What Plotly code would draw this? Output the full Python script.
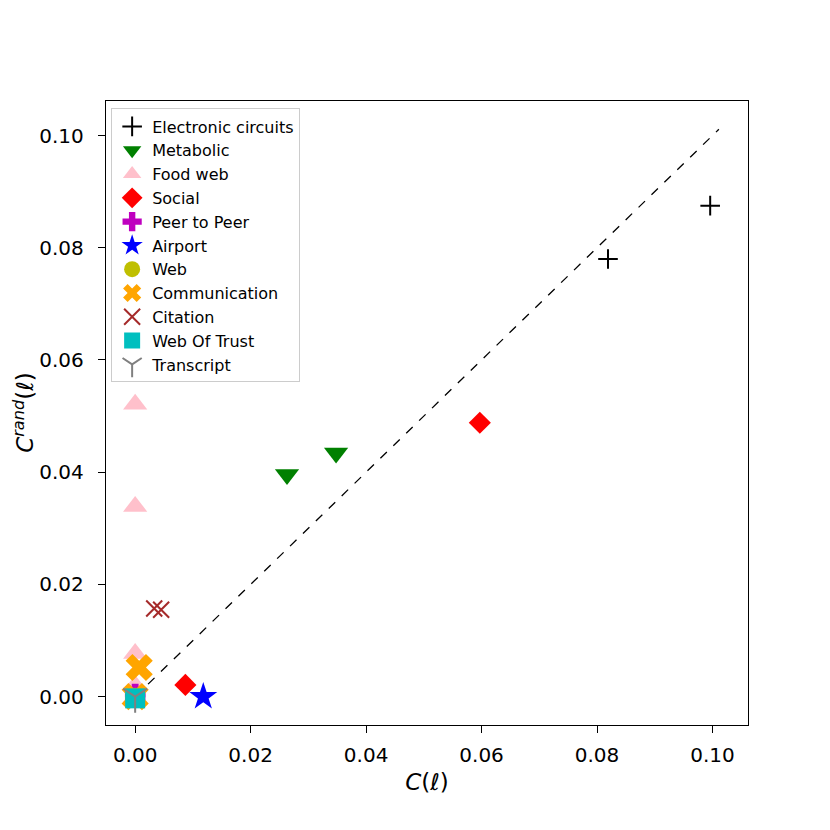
import plotly.graph_objects as go

# values (x = C(l), y = C^rand(l))
circuits_x = [0.0819, 0.0996]
circuits_y = [0.0780, 0.0875]

metabolic_x = [0.0263, 0.0348]
metabolic_y = [0.0396, 0.0434]

foodweb_x = [0.0, 0.0, 0.0, 0.0, 0.0]
foodweb_y = [0.0521, 0.0339, 0.0077, 0.0020, 0.0]

social_x = [0.0597, 0.0087]
social_y = [0.0488, 0.0021]

p2p_x = [0.0, 0.0]
p2p_y = [0.0005, 0.0]

airport_x = [0.0118]
airport_y = [0.0]

web_x = [0.0]
web_y = [-0.0002]

comm_x = [0.0007, 0.0]
comm_y = [0.0052, 0.0]

citation_x = [0.0033, 0.0045]
citation_y = [0.0157, 0.0155]

trust_x = [0.0]
trust_y = [-0.0003]

transcript_x = [0.0]
transcript_y = [0.0]

diag = [0.0, 0.1011]

tick_vals = [0, 0.02, 0.04, 0.06, 0.08, 0.10]

fig = go.Figure()

fig.add_trace(go.Scatter(x=diag, y=diag, mode="lines",
                         line=dict(color="black", width=1.3, dash="dash"),
                         showlegend=False, hoverinfo="skip"))

# (name, xs, ys, symbol, colour, size, is_line_symbol)
series = [
    ("Electronic circuits", circuits_x, circuits_y, "cross-thin", "black", 14, True),
    ("Metabolic", metabolic_x, metabolic_y, "triangle-down", "green", 21, False),
    ("Food web", foodweb_x, foodweb_y, "triangle-up", "pink", 21, False),
    ("Social", social_x, social_y, "diamond", "red", 17, False),
    ("Peer to Peer", p2p_x, p2p_y, "cross", "#bf00bf", 17, False),
    ("Airport", airport_x, airport_y, "star", "blue", 21, False),
    ("Web", web_x, web_y, "circle", "#bfbf00", 20, False),
    ("Communication", comm_x, comm_y, "x", "orange", 24, False),
    ("Citation", citation_x, citation_y, "x-thin", "brown", 16, True),
    ("Web Of Trust", trust_x, trust_y, "square", "#00bfbf", 20, False),
    ("Transcript", transcript_x, transcript_y, "y-down", "grey", 20, True),
]

for name, xs, ys, sym, col, size, thin in series:
    if thin:
        marker = dict(symbol=sym, size=size, color=col,
                      line=dict(color=col, width=2))
    else:
        marker = dict(symbol=sym, size=size, color=col, line=dict(width=0))
    fig.add_trace(go.Scatter(x=xs, y=ys, mode="markers", name=name,
                             marker=marker))

axis_common = dict(
    range=[-0.00505, 0.10615],
    tickvals=tick_vals,
    tickformat=".2f",
    ticks="outside", ticklen=7, tickwidth=1.3, tickcolor="black",
    showline=True, linecolor="black", linewidth=1.4, mirror=True,
    showgrid=False, zeroline=False, automargin=False,
    tickfont=dict(size=20, color="black"),
)

fig.update_xaxes(**axis_common, ticklabelstandoff=5,
                 title=dict(text="<i>C</i>(<i>ℓ</i>)", font=dict(size=23), standoff=7))
fig.update_yaxes(**axis_common, ticklabelstandoff=10)

# y label as a rotated annotation so it can sit close to the page edge
fig.add_annotation(text="<i>C</i><sup><i>rand</i></sup>(<i>ℓ</i>)",
                   xref="paper", yref="paper", x=-0.128, y=0.5,
                   xanchor="center", yanchor="middle", textangle=-90,
                   showarrow=False, font=dict(size=23))

fig.update_layout(
    width=830, height=830,
    margin=dict(l=98, r=90, t=93, b=113),
    plot_bgcolor="white", paper_bgcolor="white",
    font=dict(family="DejaVu Sans", color="black"),
    legend=dict(x=0.008, y=0.988, xanchor="left", yanchor="top",
                bgcolor="rgba(255,255,255,0.8)", bordercolor="#cccccc",
                borderwidth=1, font=dict(size=16), itemsizing="trace",
                tracegroupgap=0),
)

fig.write_html("out.html")
